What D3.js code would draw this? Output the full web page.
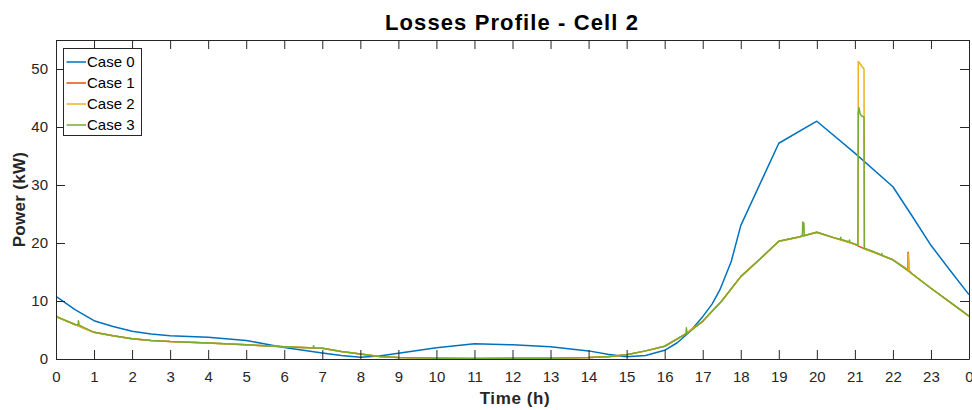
<!DOCTYPE html>
<html>
<head>
<meta charset="utf-8">
<script src="https://cdn.jsdelivr.net/npm/d3@7"></script>
<style>
  html, body { margin: 0; padding: 0; background: #fff; }
  svg { display: block; font-family: "Liberation Sans", Arial, Helvetica, sans-serif; }
</style>
</head>
<body>
<svg id="chart" width="972" height="410"></svg>
<script>
// ---------------- DATA ----------------
const titleText = "Losses Profile - Cell 2";
const xLabelText = "Time (h)";
const yLabelText = "Power (kW)";
const seriesNames = ["Case 0", "Case 1", "Case 2", "Case 3"];
const seriesColors = ["#0072BD", "#D95319", "#EDB120", "#77AC30"];
const xTickValues = [0,1,2,3,4,5,6,7,8,9,10,11,12,13,14,15,16,17,18,19,20,21,22,23,24];
const xTickLabels = ["0","1","2","3","4","5","6","7","8","9","10","11","12","13","14","15","16","17","18","19","20","21","22","23","0"];
const yTickValues = [0, 10, 20, 30, 40, 50];

// Case 0 (time h, power kW)
const case0Time = [0,0.5,1,1.5,2,2.5,3,4,5,5.5,6,6.5,7,7.5,8,8.5,9,10,11,12,13,14,14.5,15,15.5,16,16.33,16.66,17,17.25,17.45,17.75,18,18.5,19,20,21,22,22.5,23,23.5,24];
const case0Power = [10.8,8.5,6.6,5.6,4.8,4.3,4.0,3.75,3.2,2.6,2.0,1.5,1.05,0.6,0.3,0.5,1.0,1.95,2.65,2.45,2.1,1.4,0.8,0.4,0.6,1.5,2.8,4.7,7.3,9.5,11.9,16.8,23.0,30.1,37.2,41.0,35.5,29.7,24.7,19.6,15.3,11.1];

// Case 1
const case1Time = [0,0.5,1,1.5,2,2.5,3,4,5,6,7,7.5,8,8.5,9,10,11,12,13,14,14.5,15,15.5,16,16.5,17,17.5,18,18.5,19,19.5,20,20.5,21,21.08,21.25,21.5,22,22.39,22.4,22.42,22.5,23,23.5,24];
const case1Power = [7.3,5.95,4.6,4.0,3.5,3.2,3.0,2.75,2.45,2.1,1.85,1.3,0.85,0.45,0.25,0.15,0.1,0.12,0.15,0.25,0.4,0.75,1.4,2.2,4.1,6.5,10.0,14.2,17.2,20.3,21.0,21.85,20.8,19.8,19.5,19.0,18.4,17.1,15.4,18.4,15.3,14.7,12.2,9.8,7.4];

// Case 2
const case2Time = [0,0.5,1,1.5,2,2.5,3,4,5,6,7,7.5,8,8.5,9,10,11,12,13,14,14.5,15,15.5,16,16.5,17,17.5,18,18.5,19,19.5,20,20.5,21,21.08,21.09,21.24,21.25,21.5,22,22.4,22.41,22.43,22.5,23,23.5,24];
const case2Power = [7.3,5.95,4.6,4.0,3.5,3.2,3.0,2.75,2.45,2.1,1.85,1.3,0.85,0.45,0.25,0.15,0.1,0.12,0.15,0.25,0.4,0.75,1.4,2.2,4.1,6.5,10.0,14.2,17.2,20.3,21.0,21.85,20.8,19.8,19.65,51.3,50.0,19.0,18.4,17.1,15.3,18.1,15.2,14.7,12.2,9.8,7.4];

// Case 3
const case3Time = [0,0.02,0.5,0.58,0.59,0.61,1,1.5,2,2.5,3,4,5,6,6.76,6.77,6.79,7,7.5,8,8.5,9,10,11,12,13,14,14.5,15,15.5,16,16.5,16.56,16.57,16.59,17,17.5,18,18.5,19,19.5,19.62,19.63,19.66,19.67,20,20.5,20.62,20.63,20.64,20.85,20.86,20.87,21,21.08,21.09,21.11,21.14,21.18,21.24,21.25,21.5,21.7,21.71,21.72,22,22.5,23,23.5,24];
const case3Power = [7.9,7.3,5.95,5.9,6.6,5.85,4.6,4.0,3.5,3.2,3.0,2.75,2.45,2.1,1.9,2.3,1.9,1.85,1.3,0.85,0.45,0.25,0.15,0.1,0.12,0.15,0.25,0.4,0.75,1.4,2.2,4.1,4.3,5.4,4.35,6.5,10.0,14.2,17.2,20.3,21.0,21.2,23.6,23.4,21.25,21.85,20.8,20.65,21.0,20.6,20.2,20.5,20.15,19.8,19.65,42.5,43.3,42.2,41.9,41.7,19.1,18.5,17.9,18.2,17.85,17.1,14.7,12.2,9.8,7.4];

// ---------------- CHART ----------------
const W = 972, H = 410;
const margin = { left: 56, right: 3, top: 40, bottom: 51 };
const plotW = W - margin.left - margin.right;
const plotH = H - margin.top - margin.bottom;
const axisColor = "#262626";
const tickLen = 9;

const svg = d3.select("#chart");
const x = d3.scaleLinear().domain([0, 24]).range([margin.left, margin.left + plotW]);
const y = d3.scaleLinear().domain([0, 55]).range([margin.top + plotH, margin.top]);

// clip
svg.append("defs").append("clipPath").attr("id", "clip")
  .append("rect").attr("x", margin.left).attr("y", margin.top).attr("width", plotW).attr("height", plotH);

const seriesData = [
  d3.zip(case0Time, case0Power),
  d3.zip(case1Time, case1Power),
  d3.zip(case2Time, case2Power),
  d3.zip(case3Time, case3Power)
];

const line = d3.line().x(d => x(d[0])).y(d => y(d[1]));

const gLines = svg.append("g").attr("clip-path", "url(#clip)");
seriesData.forEach((data, i) => {
  gLines.append("path")
    .datum(data)
    .attr("fill", "none")
    .attr("stroke", seriesColors[i])
    .attr("stroke-width", 1.5)
    .attr("stroke-linejoin", "round")
    .attr("d", line);
});

// axes
const xAxisBottom = d3.axisBottom(x).tickValues(xTickValues)
  .tickFormat((d, i) => xTickLabels[i]).tickSizeInner(-tickLen).tickSizeOuter(0).tickPadding(12);
const xAxisTop = d3.axisTop(x).tickValues(xTickValues).tickFormat("").tickSizeInner(-tickLen).tickSizeOuter(0);
const yAxisLeft = d3.axisLeft(y).tickValues(yTickValues).tickSizeInner(-tickLen).tickSizeOuter(0).tickPadding(8);
const yAxisRight = d3.axisRight(y).tickValues(yTickValues).tickFormat("").tickSizeInner(-tickLen).tickSizeOuter(0);

function styleAxis(g) {
  g.select(".domain").attr("stroke", axisColor).attr("stroke-width", 1);
  g.selectAll(".tick line").attr("stroke", axisColor).attr("stroke-width", 1);
  g.selectAll(".tick text").attr("fill", axisColor).attr("font-size", 15)
    .attr("font-family", "'Liberation Sans', Arial, Helvetica, sans-serif");
}

svg.append("g").attr("transform", `translate(0,${margin.top + plotH})`).call(xAxisBottom).call(styleAxis);
svg.append("g").attr("transform", `translate(0,${margin.top})`).call(xAxisTop).call(styleAxis);
svg.append("g").attr("transform", `translate(${margin.left},0)`).call(yAxisLeft).call(styleAxis);
svg.append("g").attr("transform", `translate(${margin.left + plotW},0)`).call(yAxisRight).call(styleAxis);

// title & labels
svg.append("text").attr("x", 512).attr("y", 30)
  .attr("text-anchor", "middle").attr("font-weight", "bold").attr("font-size", 22)
  .attr("letter-spacing", "1.1px")
  .attr("fill", "#000").text(titleText);

svg.append("text").attr("x", 515).attr("y", 404)
  .attr("text-anchor", "middle").attr("font-weight", "bold").attr("font-size", 17)
  .attr("letter-spacing", "0.6px")
  .attr("fill", axisColor).text(xLabelText);

svg.append("text")
  .attr("transform", `translate(25,${margin.top + plotH / 2}) rotate(-90)`)
  .attr("text-anchor", "middle").attr("font-weight", "bold").attr("font-size", 17)
  .attr("letter-spacing", "0.3px")
  .attr("fill", axisColor).text(yLabelText);

// legend
const lg = svg.append("g").attr("transform", "translate(63.5,48.5)");
lg.append("rect").attr("width", 78).attr("height", 87)
  .attr("fill", "#fff").attr("stroke", axisColor).attr("stroke-width", 1);
seriesNames.forEach((name, i) => {
  const yy = 13.5 + i * 21;
  lg.append("line").attr("x1", 3).attr("x2", 22.5).attr("y1", yy).attr("y2", yy)
    .attr("stroke", seriesColors[i]).attr("stroke-width", 1.5);
  lg.append("text").attr("x", 23.5).attr("y", yy + 5.3).attr("font-size", 15)
    .attr("fill", "#000").text(name);
});
</script>
</body>
</html>
